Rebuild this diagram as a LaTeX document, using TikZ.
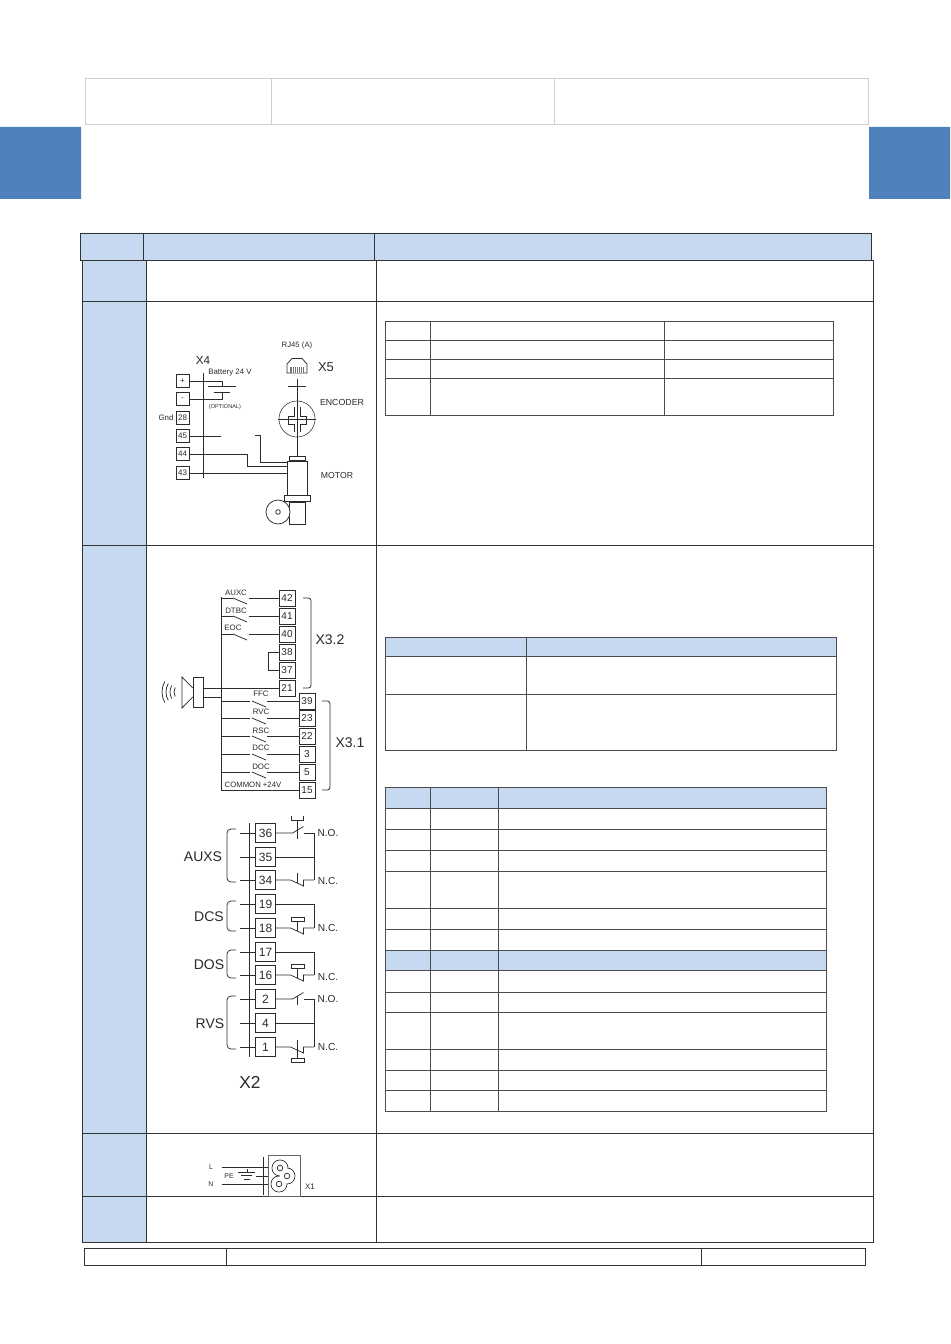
\documentclass[tikz,border=0pt]{standalone}
\usepackage{fontspec}
\setmainfont{Liberation Sans}
\usetikzlibrary{calc}
\definecolor{pageblue}{HTML}{4F81BD}
\definecolor{cellblue}{HTML}{C6D9F1}
\definecolor{headgrey}{HTML}{CFCFCF}
\definecolor{inkgrey}{HTML}{2B2B2B}
\tikzset{%
  tabline/.style  = {draw=black!80,line width=0.6pt},%
  thinline/.style = {draw=black!70,line width=0.5pt},%
  headline/.style = {draw=headgrey,line width=0.7pt},%
  wire/.style     = {draw=inkgrey,line width=0.55pt},%
  lbl/.style      = {inner sep=0pt,text=inkgrey,font=\fontsize{5.9}{6}\selectfont},%
  midlbl/.style   = {lbl,font=\fontsize{7.6}{8}\selectfont},%
  biglbl/.style   = {lbl,font=\fontsize{10.5}{11}\selectfont},%
  part/.style     = {draw=inkgrey,fill=white,inner sep=0pt,line width=0.55pt},%
  term/.style     = {part,rectangle,text=inkgrey},%
  termsmall/.style= {term,minimum size=9.8pt,font=\fontsize{6}{6}\selectfont},%
  termmid/.style  = {term,minimum size=12pt,font=\fontsize{7.5}{8}\selectfont},%
  termbig/.style  = {term,minimum size=14.5pt,font=\fontsize{9}{10}\selectfont}%
}
\begin{document}
\begin{tikzpicture}[x=0.75pt,y=-0.75pt]
	\useasboundingbox[fill=white] (0,0) rectangle (950,1344);
	% page head
	\draw[headline] (85,78) rectangle (868,124) (271,78) -- (271,124) (554,78) -- (554,124);
	\fill[pageblue] (0,127) rectangle (81,199) (869,127) rectangle (950,199);
	% main table
	\fill[cellblue] (80,233) rectangle (871,260) (82,260) rectangle (146,1242);
	\draw[tabline] (80,233) rectangle (871,260) (143.5,233) -- (143.5,260) (374,233) -- (374,260);
	\draw[tabline] (82,260) rectangle (873,1242) (146,260) -- (146,1242) (376.5,260) -- (376.5,1242);
	\foreach \y in {301,545,1133,1196}
		\draw[tabline] (82,\y) -- (873,\y);
	\draw[tabline] (84,1248) rectangle (865,1265) (226,1248) -- (226,1265) (701,1248) -- (701,1265);
	% inner tables
	\draw[thinline] (385,321) rectangle (833,415) (430,321) -- (430,415) (664,321) -- (664,415);
	\foreach \y in {340,359,378}
		\draw[thinline] (385,\y) -- (833,\y);
	\fill[cellblue] (385,637) rectangle (836,656);
	\draw[thinline] (385,637) rectangle (836,750) (526,637) -- (526,750);
	\foreach \y in {656,694}
		\draw[thinline] (385,\y) -- (836,\y);
	\fill[cellblue] (385,787) rectangle (826,808) (385,950) rectangle (826,970);
	\draw[thinline] (385,787) rectangle (826,1111) (430,787) -- (430,1111) (498,787) -- (498,1111);
	\foreach \y in {808,829,850,871,908,929,950,970,992,1012,1049,1070,1090}
		\draw[thinline] (385,\y) -- (826,\y);
	% X4 and X5, motor
	\foreach \name/\txt/\y in {tp/+/381,tm/-/399,t28/28/418,t45/45/436,t44/44/454,t43/43/473}
		\node[termsmall] (\name) at (182.5,\y) {\txt};
	\node[lbl,font=\fontsize{8.8}{9}\selectfont] (xfour) at (203,360) {X4};
	\node[lbl] (gnd) at (166,418) {Gnd};
	\node[lbl] (batt) at (230,372.5) {Battery 24 V};
	\node[lbl,font=\fontsize{4.2}{5}\selectfont] (opt) at (225,407) {(OPTIONAL)};
	\coordinate (bustop) at (203,373);
	\coordinate (busbot) at (203,478);
	\draw[wire] (bustop) -- (busbot);
	\coordinate (plateA) at (222,386);
	\coordinate (plateB) at (222,392);
	\draw[wire] (tp.east) -| (plateA) (tm.east) -| (plateB);
	\draw[wire] ($(plateA)+(-14,0)$) -- ($(plateA)+(14,0)$) ($(plateB)+(-8,0)$) -- ($(plateB)+(8,0)$);
	\draw[wire] (t45.east) -- (221,436);
	\node[part,minimum width=15pt,minimum height=25.5pt] (motor) at (297,478) {};
	\node[part,minimum width=12pt,minimum height=3pt,anchor=south] (mtop) at (motor.north) {};
	\node[part,minimum width=19.5pt,minimum height=4.5pt,anchor=north] (flange) at (motor.south) {};
	\node[part,minimum width=12pt,minimum height=16.5pt,anchor=north] (mlow) at (flange.south) {};
	\node[part,circle,minimum size=18pt] (pulley) at (278,512) {};
	\node[part,circle,minimum size=3.5pt] (hub) at (pulley) {};
	\draw[wire] (255,435) -- (260,435) -- (260,462) -- (motor.west |- 260,462);
	\draw[wire] (t44.east) -- (247,454) -- (247,466) -- (motor.west |- 247,466);
	\draw[wire] (t43.east) -- (motor.west |- t43);
	\node[lbl,font=\fontsize{6.5}{7}\selectfont] (lmotor) at (337,476) {MOTOR};
	\node[draw=inkgrey,circle,minimum size=27pt,inner sep=0pt] (encoder) at (297,419) {};
	\coordinate (rjfoot) at (297,373);
	\draw[wire] (rjfoot) ++(0,6) -- (mtop.north);
	\draw[wire] (278,419) -- (316,419) (288,386) -- (306,386);
	\draw[wire] (294,407) -- (294,416) -- (288,416) -- (288,424) -- (294,424) -- (294,432);
	\draw[wire] (300,407) -- (300,416) -- (306,416) -- (306,424) -- (300,424) -- (300,432);
	\draw[wire] (287,373) -- (287,364) -- (292,358.5) -- (302,358.5) -- (307,364) -- (307,373) -- cycle;
	\fill[black!55] (290,367) rectangle (304,373);
	\foreach \x in {292,294,...,302}
		\draw[white,line width=0.3pt] (\x,367) -- (\x,373);
	\node[lbl,font=\fontsize{5.8}{6}\selectfont] (lrj) at (297,345) {RJ45 (A)};
	\node[lbl,font=\fontsize{9.7}{10}\selectfont] (xfive) at (326,367) {X5};
	\node[lbl,font=\fontsize{6.6}{7}\selectfont] (lenc) at (342,402) {ENCODER};
	% X3
	\foreach \txt/\y in {42/598,41/616,40/634,38/652,37/670,21/688}
		\node[termmid] (t\txt) at (287,\y) {\txt};
	\foreach \txt/\y in {39/701,23/718,22/736,3/754,5/772,15/790}
		\node[termmid] (t\txt) at (307,\y) {\txt};
	\coordinate (railtop) at (221,597);
	\coordinate (railbot) at (221,790);
	\draw[wire] (railtop) -- (railbot) -- (t15.west);
	\foreach \txt/\lab/\lx/\ly in {42/AUXC/236/593,41/DTBC/236/611,40/EOC/233/628}{
		\draw[wire] (railtop |- t\txt) -- ++(12,0);
		\draw[wire] ($(railtop |- t\txt)+(12,0)$) -- ++(14,6);
		\draw[wire] ($(t\txt.west)+(-30,0)$) -- (t\txt.west);
		\node[lbl] at (\lx,\ly) {\lab};
	}
	\foreach \txt/\lab/\ly in {39/FFC/694,23/RVC/712,22/RSC/731,3/DCC/748,5/DOC/767}{
		\draw[wire] (railtop |- t\txt) -- ++(29,0);
		\draw[wire] ($(railtop |- t\txt)+(31,0)$) -- ++(14,6);
		\draw[wire] ($(railtop |- t\txt)+(46,0)$) -- (t\txt.west);
		\node[lbl] at (261,\ly) {\lab};
	}
	\node[lbl,font=\fontsize{5.8}{6}\selectfont] (lcommon) at (253,785) {COMMON +24V};
	\draw[wire] (t38.west) -- (268,652) -- (268,670) -- (t37.west);
	\node[part,minimum width=8pt,minimum height=23pt] (horn) at (198.5,692.5) {};
	\draw[wire] (horn.west |- 0,688) -- (182,677) -- (182,708) -- (horn.west |- 0,697);
	\draw[wire] (horn.east |- t21) -- (t21.west);
	\draw[wire] (horn.east |- 0,697) -- (railtop |- 0,697);
	\foreach \r in {9,13,17,21}
		\draw[wire] ($(183,692)+(150:\r)$) arc[start angle=150,end angle=210,radius=\r];
	\draw[wire,rounded corners=2] (303,598) -- (311,598) -- (311,688) -- (303,688);
	\draw[wire,rounded corners=2] (322,701) -- (330,701) -- (330,790) -- (322,790);
	\node[biglbl] (xthreetwo) at (330,640) {X3.2};
	\node[biglbl] (xthreeone) at (350,743) {X3.1};
	% X2
	\foreach \txt/\y in {36/833,35/857,34/880,19/904,18/928,17/952,16/975,2/999,4/1023,1/1047}{
		\node[termbig] (t\txt) at (265.5,\y) {\txt};
		\draw[wire] (240,\y) -- (t\txt.west);
	}
	\coordinate (xbustop) at (249,823);
	\coordinate (xbusbot) at (249,1057);
	\draw[wire] (xbustop) -- (xbusbot);
	\foreach \txt in {35,19,17,4}
		\draw[wire] (t\txt.east) -- (314,0 |- t\txt);
	% normally open contacts
	\foreach \txt in {36,2}{
		\draw[wire] (t\txt.east) -- ++(17,0) -- ++(11,-6.5);
		\draw[wire] ($(t\txt.east)+(28,0)$) -- (314,0 |- t\txt);
		\draw[wire] ($(t\txt.east)+(22,-3)$) -- ++(0,9);
	}
	\draw[wire] (291,816) -- (291,820) -- (303,820) -- (303,816) (297,820) -- (297,830);
	% normally closed contacts
	\foreach \txt in {34,18,16,1}{
		\draw[wire] (t\txt.east) -- ++(15,0) -- ++(13,6) -- ++(0,-6) -- (314,0 |- t\txt);
		\draw[wire] ($(t\txt.east)+(22,-7)$) -- ++(0,10);
	}
	\draw[wire] (314,833) -- (314,880) (314,904) -- (314,928) (314,952) -- (314,975) (314,999) -- (314,1047);
	\foreach \y in {917,964,1058}
		\draw[wire,fill=white] (291,\y) rectangle ++(13,4.5);
	\draw[wire] (297,1047) -- (297,1058);
	\foreach \a/\b/\txt/\lx in {829/882/AUXS/203,901/931/DCS/209,950/978/DOS/209,996/1049/RVS/210}{
		\draw[wire,rounded corners=3] (236,\a) -- (227,\a) -- (227,\b) -- (236,\b);
		\node[biglbl] at (\lx,{(\a+\b)/2+1}) {\txt};
	}
	\foreach \txt/\y in {N.O./833,N.C./881,N.C./928,N.C./977,N.O./999,N.C./1047}
		\node[midlbl] at (328,\y) {\txt};
	\node[lbl,font=\fontsize{13}{14}\selectfont] (xtwo) at (250,1082) {X2};
	% X1
	\node[draw=black!60,minimum width=24pt,minimum height=30.75pt,inner sep=0pt] (inlet) at (284,1175.5) {};
	\foreach \x/\y in {280/1168,287/1176,279/1184}
		\draw[wire] (\x,\y) circle[radius=8];
	\foreach \x/\y in {280/1168,287/1176,279/1184}
		\fill[white] (\x,\y) circle[radius=7.4];
	\foreach \x/\y in {280/1168,287/1176,279/1184}
		\draw[wire] (\x,\y) circle[radius=2.8];
	\draw[wire] (263,1157) -- (263,1195);
	\draw[wire] (222,1167) -- (inlet.west |- 0,1167) (222,1184) -- (inlet.west |- 0,1184) (256,1176) -- (inlet.west |- 0,1176);
	\draw[wire] (238,1172) -- (255,1172) (241,1175.5) -- (252,1175.5) (244,1179) -- (250,1179) (247,1169) -- (247,1172);
	\node[lbl,font=\fontsize{5.2}{6}\selectfont] (ll) at (211,1167) {L};
	\node[lbl,font=\fontsize{5.2}{6}\selectfont] (ln) at (211,1184) {N};
	\node[lbl,font=\fontsize{5.2}{6}\selectfont] (lpe) at (229,1176) {PE};
	\node[lbl,font=\fontsize{6}{7}\selectfont] (xone) at (310,1187) {X1};
\end{tikzpicture}
\end{document}
